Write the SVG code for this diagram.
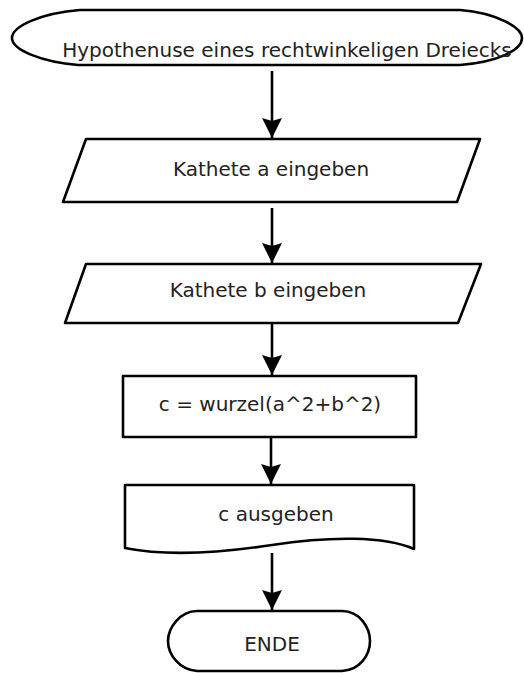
<svg xmlns="http://www.w3.org/2000/svg" width="524" height="673" viewBox="0 0 524 673">
<defs>
<style>
.shape{fill:#fff;stroke:#000;stroke-width:2.6;stroke-linejoin:round}
.lbl{font-family:"DejaVu Sans",sans-serif;font-size:20px;fill:#222;text-anchor:middle}
.conn{stroke:#000;stroke-width:2.6;fill:none}
</style>
<marker id="ah" markerUnits="userSpaceOnUse" markerWidth="22" markerHeight="22" viewBox="0 0 22 22" refX="20" refY="11" orient="auto">
<path d="M0 1 L20 11 L0 21 L3 11 Z" fill="#000"/>
</marker>
</defs>
<rect width="524" height="673" fill="#fff"/>
<g id="start">
<path class="shape" d="M80 10 L460 10 C498 13 522 28 522 38 C522 50 498 62 460 65 L78 65 C42 62 12 50 12 38 C12 26 42 13 80 10 Z"/>
<text class="lbl" x="287" y="57">Hypothenuse eines rechtwinkeligen Dreiecks</text>
</g>
<g id="input-a">
<path class="shape" d="M86 139 L480 139 L457 202 L63 202 Z"/>
<text class="lbl" x="271" y="176">Kathete a eingeben</text>
</g>
<g id="input-b">
<path class="shape" d="M86 264 L481 264 L458 323 L65 323 Z"/>
<text class="lbl" x="268" y="297">Kathete b eingeben</text>
</g>
<g id="calc">
<rect class="shape" x="123" y="376" width="293" height="61"/>
<text class="lbl" x="270" y="411">c = wurzel(a^2+b^2)</text>
</g>
<g id="output">
<path class="shape" d="M125 485 H414 V549 C385 536 330 536 272 545 C220 553 165 556 125 548 Z"/>
<text class="lbl" x="276" y="521">c ausgeben</text>
</g>
<g id="end">
<path class="shape" d="M197 611 L342 611 C360 611 370 628 370 641 C370 655 360 670 342 671 L197 671 C180 670 168 655 168 641 C168 628 180 611 197 611 Z"/>
<text class="lbl" x="272" y="651" font-size="19">ENDE</text>
</g>
<g id="connectors">
<path class="conn" marker-end="url(#ah)" d="M272 71 V138"/>
<path class="conn" marker-end="url(#ah)" d="M272 208 V263"/>
<path class="conn" marker-end="url(#ah)" d="M272 323 V375"/>
<path class="conn" marker-end="url(#ah)" d="M271 437 V484"/>
<path class="conn" marker-end="url(#ah)" d="M272 553 V610"/>
</g>
</svg>
